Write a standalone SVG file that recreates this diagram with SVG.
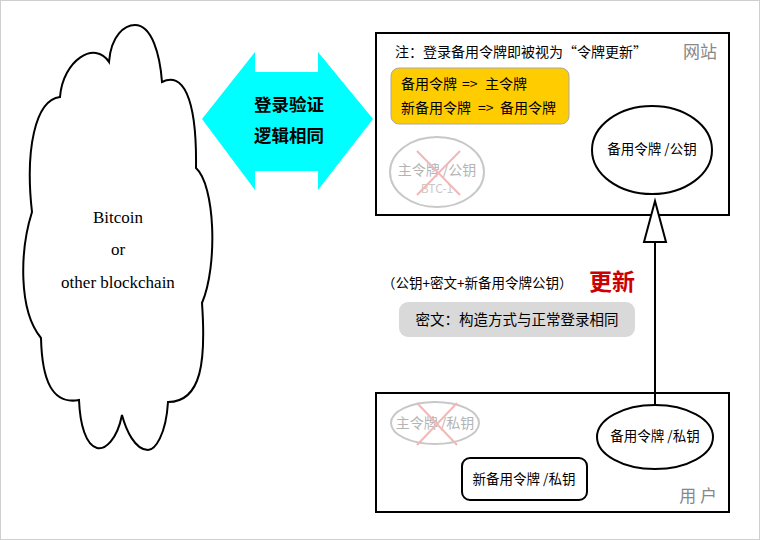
<svg xmlns="http://www.w3.org/2000/svg" width="760" height="540" viewBox="0 0 760 540">
<style>
.cjk{font-family:"Noto Sans CJK SC","Liberation Sans",sans-serif;fill:#000}
.ser{font-family:"Liberation Serif","Times New Roman",serif;font-size:17px;fill:#000}
.box{fill:#fff;stroke:#000;stroke-width:2}
.ghost{fill:none;stroke:#c8c8c8;stroke-width:2}
.gtxt{font-family:"Noto Sans CJK SC","Liberation Sans",sans-serif;fill:#b4b4b4}
.cross{stroke:#f2b8b8;stroke-width:2}
.lbl{font-family:"Noto Sans CJK SC",sans-serif;font-size:17px;fill:#888}
</style>
<rect x="0.5" y="0.5" width="759" height="539" fill="#fff" stroke="#cfcfcf"/>

<g id="cloud">
<path d="M109,62 C111,35 125,25 135,25 C152,25 160,55 162,82 C182,72 197,95 196,168 C215,185 218,265 202,303 C206,360 202,402 168,402 C166,435 155,450 148,450 C135,450 126,430 122,415 C117,440 105,450 97,448 C86,445 80,425 79,400 C52,405 42,380 41,338 C18,310 20,250 32,212 C25,150 35,100 60,97 C63,60 95,40 109,62 Z" fill="#fff" stroke="#000" stroke-width="2"/>
<text class="ser" x="118" y="223" text-anchor="middle">Bitcoin</text>
<text class="ser" x="118" y="255" text-anchor="middle">or</text>
<text class="ser" x="118" y="288" text-anchor="middle">other blockchain</text>
</g>

<g id="login-logic">
<polygon points="202,119 255,52 255,72 318,72 318,52 373,119 318,190 318,171 255,171 255,190" fill="#00ffff"/>
<text class="cjk" x="289" y="111" text-anchor="middle" font-size="17.5" font-weight="bold">登录验证</text>
<text class="cjk" x="289" y="142" text-anchor="middle" font-size="17.5" font-weight="bold">逻辑相同</text>
</g>

<g id="website">
<rect class="box" x="376" y="33" width="353" height="182"/>
<text class="cjk" x="395" y="57" font-size="14">注：登录备用令牌即被视为“令牌更新”</text>
<text class="lbl" x="717" y="58" text-anchor="end">网站</text>
<rect x="391" y="68" width="178" height="56" rx="8" fill="#ffcc00" stroke="#a8a8a8"/>
<text class="cjk" y="89" font-size="14"><tspan x="401">备用令牌</tspan><tspan x="462">=&gt;</tspan><tspan x="485">主令牌</tspan></text>
<text class="cjk" y="113" font-size="14"><tspan x="401">新备用令牌</tspan><tspan x="478">=&gt;</tspan><tspan x="500">备用令牌</tspan></text>
</g>

<g id="old-main-public">
<ellipse class="ghost" cx="437" cy="172" rx="47" ry="35"/>
<text class="gtxt" x="437" y="175" text-anchor="middle" font-size="14">主令牌 /公钥</text>
<text class="gtxt" x="437" y="193" text-anchor="middle" font-size="12" style="fill:#c8c8c8">BTC-1</text>
<line class="cross" x1="417" y1="151" x2="460" y2="195"/>
<line class="cross" x1="460" y1="151" x2="417" y2="195"/>
</g>

<g id="backup-public">
<ellipse cx="652" cy="150" rx="60" ry="44" fill="#fff" stroke="#000" stroke-width="2"/>
<text class="cjk" x="652" y="154" text-anchor="middle" font-size="13.5">备用令牌 /公钥</text>
</g>

<g id="update-label">
<text class="cjk" x="382" y="288" font-size="13.5">（公钥+密文+新备用令牌公钥）</text>
<text class="cjk" x="589" y="290" font-size="23" font-weight="bold" style="fill:#cc0000">更新</text>
<rect x="399" y="302" width="236" height="35" rx="9" fill="#d9d9d9"/>
<text class="cjk" x="517" y="325" text-anchor="middle" font-size="14.5">密文：构造方式与正常登录相同</text>
</g>

<g id="user">
<rect class="box" x="376" y="393" width="353" height="119"/>
<text class="lbl" x="717" y="502" text-anchor="end">用 户</text>
</g>

<g id="old-main-private">
<ellipse class="ghost" cx="435" cy="423" rx="44" ry="21"/>
<text class="gtxt" x="435" y="428" text-anchor="middle" font-size="14">主令牌 /私钥</text>
<line class="cross" x1="417" y1="403" x2="457" y2="445"/>
<line class="cross" x1="457" y1="403" x2="417" y2="445"/>
</g>

<g id="backup-private">
<ellipse cx="655" cy="437" rx="58" ry="32" fill="#fff" stroke="#000" stroke-width="2"/>
<text class="cjk" x="655" y="441" text-anchor="middle" font-size="13.5">备用令牌 /私钥</text>
</g>

<g id="new-backup-private">
<rect x="462" y="458" width="125" height="42" rx="8" fill="#fff" stroke="#000" stroke-width="2"/>
<text class="cjk" x="524" y="484" text-anchor="middle" font-size="13.5">新备用令牌 /私钥</text>
</g>

<g id="connectors">
<line x1="655" y1="405" x2="655" y2="242" stroke="#000" stroke-width="2"/>
<polygon points="655,201 666,242 644,242" fill="#fff" stroke="#000" stroke-width="2"/>
</g>
</svg>
